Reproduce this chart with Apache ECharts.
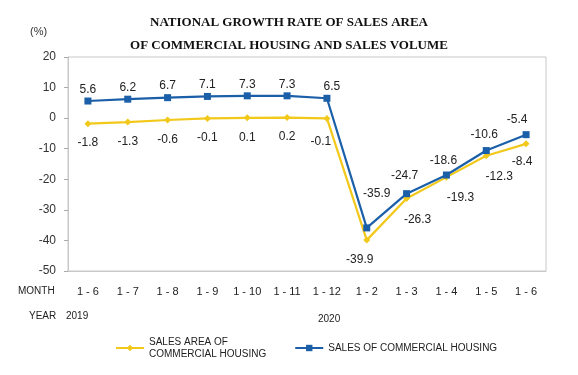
<!DOCTYPE html>
<html>
<head>
<meta charset="utf-8">
<script src="https://cdn.jsdelivr.net/npm/echarts@6/dist/echarts.min.js"></script>
<style>
  html, body { margin: 0; padding: 0; background: #fff; }
  #chart { width: 578px; height: 375px; }
</style>
</head>
<body>
<div id="chart"></div>
<script>
// months (cumulative periods), 2019 1-6 .. 2020 1-6
var months = ['1 - 6', '1 - 7', '1 - 8', '1 - 9', '1 - 10', '1 - 11', '1 - 12', '1 - 2', '1 - 3', '1 - 4', '1 - 5', '1 - 6'];
var salesArea = [-1.8, -1.3, -0.6, -0.1, 0.1, 0.2, -0.1, -39.9, -26.3, -19.3, -12.3, -8.4];
var salesVolume = [5.6, 6.2, 6.7, 7.1, 7.3, 7.3, 6.5, -35.9, -24.7, -18.6, -10.6, -5.4];
var yTicks = [20, 10, 0, -10, -20, -30, -40, -50];

// label placement (style only)
var areaLabelOffset = [[0,0],[0,0],[0,0],[0,0],[0,0],[0,0],[-6,4],[-7,0],[11,2],[14,1],[13,1],[-4,-2]];
var volLabelOffset = [[0,0],[0,0],[0,0],[0,0],[0,0],[0,0],[5,0],[10,-23],[-2,-6],[-3,-3],[-2,-4],[-9,-3]];

var mychart = echarts.init(document.getElementById('chart'));

var blue = '#1b5fa9';
var yellow = '#f2c81a';

function mkData(vals, offs) {
    return vals.map(function (v, i) {
        return { value: v, label: { offset: offs[i] } };
    });
}

var option = {
    animation: false,
    textStyle: { fontFamily: 'Arial, "Liberation Sans", sans-serif' },
    title: {
        text: 'NATIONAL GROWTH RATE OF SALES AREA\nOF COMMERCIAL HOUSING AND SALES VOLUME',
        left: 'center',
        top: 6,
        textStyle: {
            fontFamily: '"Liberation Serif", "DejaVu Serif", serif',
            fontWeight: 'bold',
            fontSize: 13,
            lineHeight: 23,
            color: '#111'
        }
    },
    grid: { left: 68, right: 32, top: 57, bottom: 104, show: true, borderColor: '#c8c8c8', borderWidth: 1 },
    xAxis: {
        type: 'category',
        data: months,
        boundaryGap: true,
        axisLine: { onZero: false, lineStyle: { color: '#c8c8c8' } },
        axisTick: { inside: true, length: 4, lineStyle: { color: '#aaa' } },
        axisLabel: { color: '#222', fontSize: 11, margin: 15, interval: 0 }
    },
    yAxis: {
        type: 'value',
        min: -50,
        max: 20,
        interval: 10,
        axisLine: { show: true, lineStyle: { color: '#c8c8c8' } },
        axisTick: { show: true, length: 4, lineStyle: { color: '#aaa' } },
        splitLine: { show: false },
        axisLabel: {
            color: '#333', fontSize: 12, margin: 12,
            formatter: function (v) { return yTicks.indexOf(v) >= 0 ? String(v) : ''; }
        }
    },
    legend: {
        bottom: 10,
        left: 110,
        itemGap: 28,
        itemWidth: 28,
        itemHeight: 8,
        textStyle: { color: '#222', fontSize: 10, lineHeight: 12, align: 'center' },
        data: [
            { name: 'SALES AREA OF\nCOMMERCIAL HOUSING' },
            { name: 'SALES OF COMMERCIAL HOUSING' }
        ]
    },
    graphic: [
        { type: 'text', left: 30, top: 26, style: { text: '(%)', fontSize: 11, fill: '#333' } },
        { type: 'text', left: 18, top: 286, style: { text: 'MONTH', fontSize: 10, fill: '#222' } },
        { type: 'text', left: 29, top: 311, style: { text: 'YEAR', fontSize: 10, fill: '#222' } },
        { type: 'text', left: 66, top: 311, style: { text: '2019', fontSize: 10, fill: '#222' } },
        { type: 'text', left: 318, top: 314, style: { text: '2020', fontSize: 10, fill: '#222' } }
    ],
    series: [
        {
            name: 'SALES AREA OF\nCOMMERCIAL HOUSING',
            type: 'line',
            data: mkData(salesArea, areaLabelOffset),
            symbol: 'diamond',
            symbolSize: 7,
            color: yellow,
            lineStyle: { width: 2.2, color: yellow },
            itemStyle: { color: yellow },
            label: { show: true, position: 'bottom', distance: 10, color: '#222', fontSize: 12 }
        },
        {
            name: 'SALES OF COMMERCIAL HOUSING',
            type: 'line',
            data: mkData(salesVolume, volLabelOffset),
            symbol: 'rect',
            symbolSize: 7,
            color: blue,
            lineStyle: { width: 2.2, color: blue },
            itemStyle: { color: blue },
            label: { show: true, position: 'top', distance: 2, color: '#222', fontSize: 12 }
        }
    ]
};

mychart.setOption(option);
window.onresize = mychart.resize;
</script>
</body>
</html>
